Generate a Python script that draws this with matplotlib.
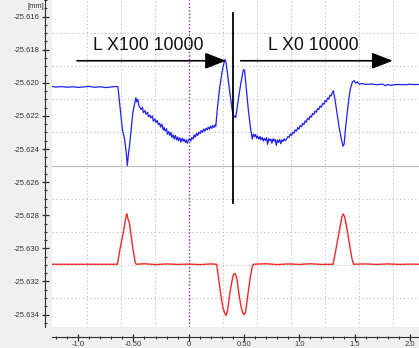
import matplotlib
matplotlib.use("Agg")
import matplotlib.pyplot as plt
import numpy as np

# ---------------- data ----------------
blue_x = [-1.236, -1.2, -1.15, -1.1, -1.05, -1.0, -0.95, -0.9, -0.85, -0.8, -0.75, -0.7, -0.66, -0.64,
          -0.62, -0.60, -0.58, -0.565, -0.555, -0.545, -0.535, -0.52, -0.505, -0.49, -0.478, -0.47, -0.46, -0.45,
          -0.44, -0.43, -0.418, -0.41, -0.395, -0.387, -0.372, -0.365, -0.35, -0.343, -0.328, -0.32, -0.305,
          -0.296, -0.285, -0.275, -0.262, -0.255, -0.242, -0.23, -0.222, -0.212, -0.2, -0.193, -0.18, -0.171,
          -0.16, -0.152, -0.14, -0.131, -0.12, -0.11, -0.1, -0.092, -0.08, -0.071, -0.06, -0.05, -0.042,
          -0.03, -0.022, -0.012, -0.003, 0.008, 0.018, 0.028, 0.04, 0.049, 0.06, 0.07, 0.081, 0.092, 0.103,
          0.113, 0.125, 0.134, 0.146, 0.155, 0.167, 0.176, 0.188, 0.197, 0.209, 0.218, 0.23, 0.238, 0.245,
          0.26, 0.28, 0.30, 0.315, 0.328, 0.335, 0.35, 0.37, 0.39, 0.405, 0.415, 0.425, 0.44, 0.46, 0.48,
          0.495, 0.505, 0.52, 0.54, 0.56, 0.575, 0.585,
          0.595, 0.604, 0.615, 0.623, 0.634, 0.645, 0.653, 0.664, 0.675, 0.684, 0.695, 0.705, 0.713, 0.724,
          0.735, 0.742, 0.752, 0.763, 0.772, 0.781, 0.792, 0.801, 0.812, 0.823, 0.832, 0.843, 0.852, 0.863,
          0.874, 0.885,
          0.896, 0.908, 0.918, 0.93, 0.94, 0.952, 0.962, 0.975, 0.985, 0.997, 1.008, 1.02, 1.03, 1.042, 1.052,
          1.064, 1.075, 1.087, 1.097, 1.109, 1.12, 1.132, 1.142, 1.154, 1.165, 1.176, 1.187, 1.199, 1.21,
          1.222, 1.232, 1.244, 1.255, 1.266, 1.277, 1.288, 1.298, 1.307,
          1.32, 1.34, 1.36, 1.38, 1.395, 1.405, 1.42, 1.44, 1.46, 1.48, 1.495, 1.51, 1.525, 1.54,
          1.57, 1.60, 1.65, 1.70, 1.75, 1.78, 1.80, 1.83, 1.85, 1.90, 1.95, 2.00, 2.05, 2.082]
blue_y = [-25.62022, -25.62026, -25.62023, -25.62027, -25.62024, -25.62028, -25.62025, -25.62022, -25.62027,
          -25.62024, -25.62029, -25.62025, -25.62022, -25.62024,
          -25.6215, -25.6228, -25.6234, -25.6242, -25.6250, -25.6243, -25.6238, -25.6228, -25.6218, -25.6213,
          -25.6209, -25.62115, -25.6210, -25.6214,
          -25.62150, -25.62162, -25.62148, -25.62180, -25.62168, -25.62190, -25.62178, -25.62205, -25.62195,
          -25.62212, -25.62200, -25.62232, -25.62218, -25.62240, -25.62228, -25.62252, -25.62245, -25.62268,
          -25.62250, -25.62285, -25.62270, -25.62292, -25.62278, -25.62310, -25.62295, -25.62318, -25.62300,
          -25.62330, -25.62315, -25.62340, -25.62318, -25.62345, -25.62328, -25.62350, -25.62332, -25.62358,
          -25.62335, -25.62352, -25.62340, -25.62360, -25.62345, -25.62365, -25.62348, -25.62338, -25.62352,
          -25.62330, -25.62340, -25.62315, -25.62328, -25.62305, -25.62318, -25.62298, -25.62308, -25.62288,
          -25.62300, -25.62280, -25.62292, -25.62275, -25.62285, -25.62268, -25.62280, -25.62262, -25.62275,
          -25.62258, -25.62270, -25.62255, -25.62262,
          -25.6215, -25.6203, -25.6194, -25.6189, -25.6186, -25.6187, -25.6194, -25.6205, -25.6215, -25.6221,
          -25.6220, -25.6221, -25.6214, -25.6205, -25.6197, -25.6192, -25.61925, -25.6203, -25.6217, -25.6228,
          -25.6234, -25.6231,
          -25.62325, -25.62312, -25.62335, -25.62322, -25.62340, -25.62325, -25.62345, -25.62330, -25.62352,
          -25.62335, -25.62348, -25.62332, -25.62372, -25.62338, -25.62350, -25.62340, -25.62365, -25.62338,
          -25.62352, -25.62342, -25.62378, -25.62345, -25.62360, -25.62342, -25.62368, -25.62345, -25.62355,
          -25.62338, -25.62350, -25.62340,
          -25.62325, -25.62330, -25.62310, -25.62318, -25.62298, -25.62305, -25.62285, -25.62292, -25.62270,
          -25.62280, -25.62258, -25.62265, -25.62245, -25.62252, -25.62230, -25.62238, -25.62215, -25.62222,
          -25.62200, -25.62208, -25.62185, -25.62192, -25.62170, -25.62178, -25.62155, -25.62162, -25.62140,
          -25.62148, -25.62125, -25.62130, -25.62108, -25.62115, -25.62092, -25.62098, -25.62075, -25.62080,
          -25.62060, -25.62048,
          -25.62090, -25.6218, -25.6227, -25.6234, -25.62383, -25.6237, -25.6226, -25.6214, -25.6204, -25.61995,
          -25.61987, -25.62002, -25.61995, -25.62008,
          -25.62005, -25.62010, -25.62007, -25.62012, -25.62008, -25.62018, -25.62010, -25.62016, -25.62012,
          -25.62010, -25.62012, -25.62009, -25.62011, -25.62010]

red_x = [-1.236, -0.645, -0.62, -0.59, -0.565, -0.558, -0.55, -0.535, -0.52, -0.50, -0.485, -0.476,
         -0.40, -0.30, -0.20, -0.10, 0.0, 0.10, 0.20, 0.253,
         0.27, 0.29, 0.31, 0.325, 0.337, 0.35, 0.37, 0.39, 0.405, 0.419, 0.435, 0.455, 0.475, 0.49, 0.503,
         0.515, 0.535, 0.555, 0.575, 0.585,
         0.70, 0.80, 0.90, 1.00, 1.10, 1.20, 1.305,
         1.33, 1.36, 1.385, 1.397, 1.41, 1.43, 1.455, 1.475, 1.49,
         1.60, 1.70, 1.80, 1.90, 2.00, 2.082]
red_y = [-25.63096, -25.63096, -25.6300, -25.6290, -25.6280, -25.62792, -25.6282, -25.6285, -25.6293,
         -25.6302, -25.6308, -25.63096,
         -25.63093, -25.63098, -25.63094, -25.63097, -25.63095, -25.63098, -25.63094, -25.63096,
         -25.6318, -25.6328, -25.6336, -25.6339, -25.63405, -25.6338, -25.6328, -25.6320, -25.63158,
         -25.63152, -25.6318, -25.6328, -25.6336, -25.6339, -25.6340, -25.6338, -25.6328, -25.6318,
         -25.6311, -25.63096,
         -25.63093, -25.63098, -25.63094, -25.63097, -25.63093, -25.63097, -25.63096,
         -25.6301, -25.6290, -25.6281, -25.62792, -25.6281, -25.6288, -25.6298, -25.6306, -25.63096,
         -25.63094, -25.63097, -25.63094, -25.63097, -25.63095, -25.63096]

x_ticks = [-1.0, -0.5, 0.0, 0.5, 1.0, 1.5, 2.0]
x_tick_labels = ["-1.0", "-0.50", "0", "0.50", "1.0", "1.5", "2.0"]
y_ticks = [-25.616, -25.618, -25.620, -25.622, -25.624, -25.626, -25.628, -25.630, -25.632, -25.634]
y_tick_labels = ["-25.616", "-25.618", "-25.620", "-25.622", "-25.624", "-25.626", "-25.628",
                 "-25.630", "-25.632", "-25.634"]
h_grid = [-25.617, -25.619, -25.621, -25.623, -25.627, -25.629, -25.631, -25.633]
v_grid = [-0.9225, -0.615, -0.3075, 0.3075, 0.615, 0.9225, 1.23, 1.5375, 1.845]
ref_line_y = -25.625
cursor_x = 0.403
cursor_y = [-25.6158, -25.62728]

arrow1 = dict(text="L X100 10000", x0=-1.01, x1=0.337, y=-25.61867, tx=-0.363, ty=-25.61776)
arrow2 = dict(text="L X0 10000", x0=0.47, x1=1.845, y=-25.61867, tx=1.124, ty=-25.61776)

PX = 72 / 100  # points per pixel

# ---------------- figure ----------------
fig = plt.figure(figsize=(4.19, 3.48), dpi=100, facecolor="#f0f0f0")
ax = fig.add_axes([52 / 419, 21 / 348, 1 - 52 / 419, 1 - 21 / 348])
ax.set_facecolor("white")
ax.set_xlim(-1.236, 2.082)
ax.set_ylim(-25.63475, -25.61505)

for y in h_grid:
    ax.axhline(y, color="#c4c4c4", lw=0.8, ls=(0, (1.2, 2.2)), zorder=0)
for x in v_grid:
    ax.axvline(x, color="#c4c4c4", lw=0.8, ls=(0, (1.2, 2.2)), zorder=0)
ax.axhline(ref_line_y, color="#c0c0c0", lw=0.9, zorder=0)
ax.axvline(0.0, color="#8a2a9a", lw=1.0, ls=(0, (1, 1.5)), zorder=1)

ax.plot(blue_x, blue_y, color="#1f1ff0", lw=0.9, zorder=3)
ax.plot(red_x, red_y, color="#f02828", lw=1.0, zorder=3)

ax.plot([cursor_x, cursor_x], cursor_y, color="black", lw=1.3, zorder=4)

for a in (arrow1, arrow2):
    ax.annotate("", xy=(a["x1"], a["y"]), xytext=(a["x0"], a["y"]),
                arrowprops=dict(arrowstyle="-|>,head_length=0.85,head_width=0.33", color="black",
                                lw=1.2, mutation_scale=15, shrinkA=0, shrinkB=0), zorder=5)
    ax.text(a["tx"], a["ty"], a["text"], ha="center", va="center", fontsize=12.7,
            family="Liberation Sans", color="#111111", zorder=5)

# axes styling
for s in ("top", "right"):
    ax.spines[s].set_visible(False)
ax.spines["left"].set_position(("outward", 7 * PX))
ax.spines["bottom"].set_position(("outward", 10 * PX))
ax.spines["left"].set_color("#303030")
ax.spines["bottom"].set_color("#303030")

ax.set_xticks(x_ticks)
ax.set_xticklabels(x_tick_labels)
ax.set_xticks(np.round(np.arange(-1.2, 2.09, 0.1), 2), minor=True)
ax.set_yticks(y_ticks)
ax.set_yticklabels(y_tick_labels)
ax.set_yticks(np.round(np.arange(-25.6345, -25.6150, 0.0005), 4), minor=True)

ax.tick_params(axis="both", which="major", direction="inout", length=7 * PX, width=0.9,
               colors="#303030", labelsize=5.5)
ax.tick_params(axis="y", which="major", pad=1.2)
ax.tick_params(axis="x", which="major", pad=0.6)
ax.tick_params(axis="both", which="minor", direction="inout", length=3 * PX, width=0.8, colors="#303030")
for lab in ax.get_xticklabels() + ax.get_yticklabels():
    lab.set_family("Liberation Sans")
    lab.set_color("#333333")

fig.text(36 / 419, 1 - 6 / 348, "[mm]", fontsize=5.5, family="Liberation Sans",
         color="#333333", ha="center", va="center")

fig.savefig("out.png", dpi=100, facecolor=fig.get_facecolor())
